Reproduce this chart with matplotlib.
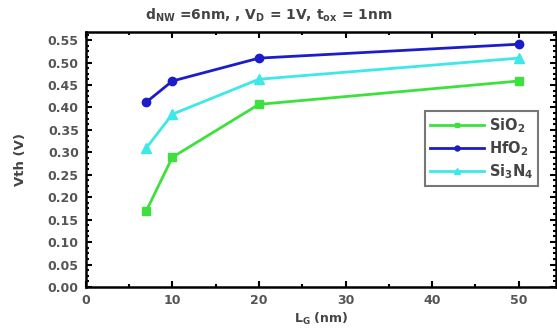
import matplotlib.pyplot as plt
from matplotlib.ticker import MultipleLocator

# gate length (nm)
lg = [7, 10, 20, 50]
vth_sio2 = [0.170, 0.289, 0.407, 0.459]
vth_hfo2 = [0.412, 0.459, 0.510, 0.541]
vth_si3n4 = [0.310, 0.385, 0.463, 0.510]

plt.rcParams['font.family'] = ['DejaVu Sans']
plt.rcParams['font.weight'] = 'bold'
plt.rcParams['axes.labelweight'] = 'bold'
plt.rcParams['mathtext.fontset'] = 'custom'
plt.rcParams['mathtext.rm'] = 'DejaVu Sans:bold'
plt.rcParams['mathtext.it'] = 'DejaVu Sans:bold'
plt.rcParams['mathtext.default'] = 'rm'

fig = plt.figure(figsize=(5.57, 3.31), dpi=100)
ax = fig.add_axes([0.154, 0.133, 0.844, 0.770])

ax.plot(lg, vth_sio2, color='#3ee03e', marker='s', markersize=6, lw=2, label='SiO$_2$')
ax.plot(lg, vth_hfo2, color='#1c1cc8', marker='o', markersize=6, lw=2, label='HfO$_2$')
ax.plot(lg, vth_si3n4, color='#3ee8e8', marker='^', markersize=7, lw=2, label='Si$_3$N$_4$')

ax.set_xlim(0, 54.3)
ax.set_ylim(0, 0.568)
ax.xaxis.set_major_locator(MultipleLocator(10))
ax.xaxis.set_minor_locator(MultipleLocator(5))
ax.yaxis.set_major_locator(MultipleLocator(0.05))
ax.yaxis.set_minor_locator(MultipleLocator(0.0125))
ax.tick_params(which='both', direction='in', top=True, right=True,
               labelsize=9, labelcolor='#555555', width=1.5)
ax.tick_params(which='major', length=4, pad=5)
ax.tick_params(which='minor', length=2)
ax.yaxis.set_major_formatter(plt.FormatStrFormatter('%.2f'))
for s in ax.spines.values():
    s.set_linewidth(1.8)

ax.set_ylabel('Vth (V)', fontsize=9.5, color='#444444', labelpad=15)
ax.set_xlabel('L$_G$ (nm)', fontsize=9, color='#444444', labelpad=3)

fig.text(0.483, 0.955, 'd$_{NW}$ =6nm, , V$_D$ = 1V, t$_{ox}$ = 1nm',
         ha='center', va='center', fontsize=10, color='#444444')

leg = ax.legend(loc='upper left', bbox_to_anchor=(0.722, 0.69), fontsize=10.5,
                frameon=True, fancybox=False, edgecolor='#555555',
                handlelength=3.7, markerscale=0.6, borderpad=0.35,
                labelspacing=0.3, handletextpad=0.3, borderaxespad=0)
leg.get_frame().set_linewidth(1.5)
for t in leg.get_texts():
    t.set_color('#444444')

fig.savefig('out.png', dpi=100)
